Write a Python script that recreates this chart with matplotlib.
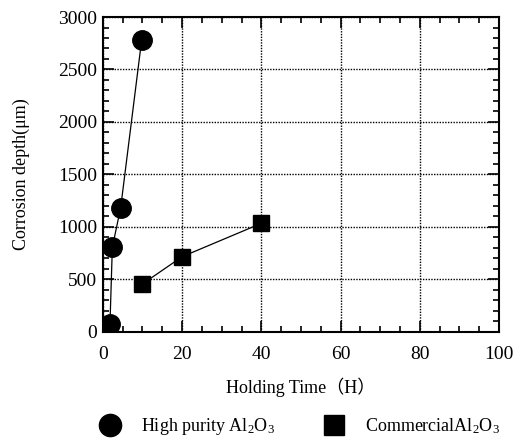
import matplotlib.pyplot as plt
from matplotlib.ticker import MultipleLocator
from matplotlib.lines import Line2D

plt.rcParams['font.family'] = ['Liberation Serif', 'Noto Sans CJK SC', 'DejaVu Sans']
plt.rcParams['mathtext.fontset'] = 'custom'
plt.rcParams['mathtext.rm'] = 'Liberation Serif'
plt.rcParams['mathtext.it'] = 'Liberation Serif:italic'

# data
high_time = [1.8, 2.4, 4.5, 9.8]
high_depth = [70, 805, 1182, 2780]
comm_time = [10, 20, 40]
comm_depth = [455, 715, 1033]

fig = plt.figure(figsize=(5.22, 4.42), dpi=100)
ax = fig.add_axes([0.197, 0.2495, 0.759, 0.712])

ax.plot(high_time, high_depth, color="black", lw=0.9, marker="o",
        ms=14, mfc="black", mec="black")
ax.plot(comm_time, comm_depth, color="black", lw=0.9, marker="s",
        ms=12, mfc="black", mec="black")

ax.set_xlim(0, 100)
ax.set_ylim(0, 3000)
ax.xaxis.set_major_locator(MultipleLocator(20))
ax.xaxis.set_minor_locator(MultipleLocator(5))
ax.yaxis.set_major_locator(MultipleLocator(500))
ax.yaxis.set_minor_locator(MultipleLocator(100))
ax.tick_params(which="both", direction="in", top=True, right=True,
               labelsize=14, width=1.2)
ax.tick_params(which="major", length=8)
ax.tick_params(which="minor", length=4)
ax.tick_params(axis="x", pad=10)
ax.tick_params(axis="y", pad=4)
for sp in ax.spines.values():
    sp.set_linewidth(1.5)
ax.grid(which="major", color="black", linestyle=(0, (1, 1)), lw=1)

ax.set_xlabel("Holding Time（H）", fontsize=13, labelpad=11)
ax.set_ylabel("Corrosion depth(μm)", fontsize=13, labelpad=20)

handles = [
    Line2D([], [], color="black", marker="o", ls="none", ms=16),
    Line2D([], [], color="black", marker="s", ls="none", ms=14),
]
labels = ["High purity Al$_2$O$_3$", "CommercialAl$_2$O$_3$"]
fig.legend(handles, labels, loc="center left", bbox_to_anchor=(0.145, 0.034),
           ncol=2, frameon=False, fontsize=13, handletextpad=0.7,
           columnspacing=2.3)

fig.savefig("out.png", dpi=100)
